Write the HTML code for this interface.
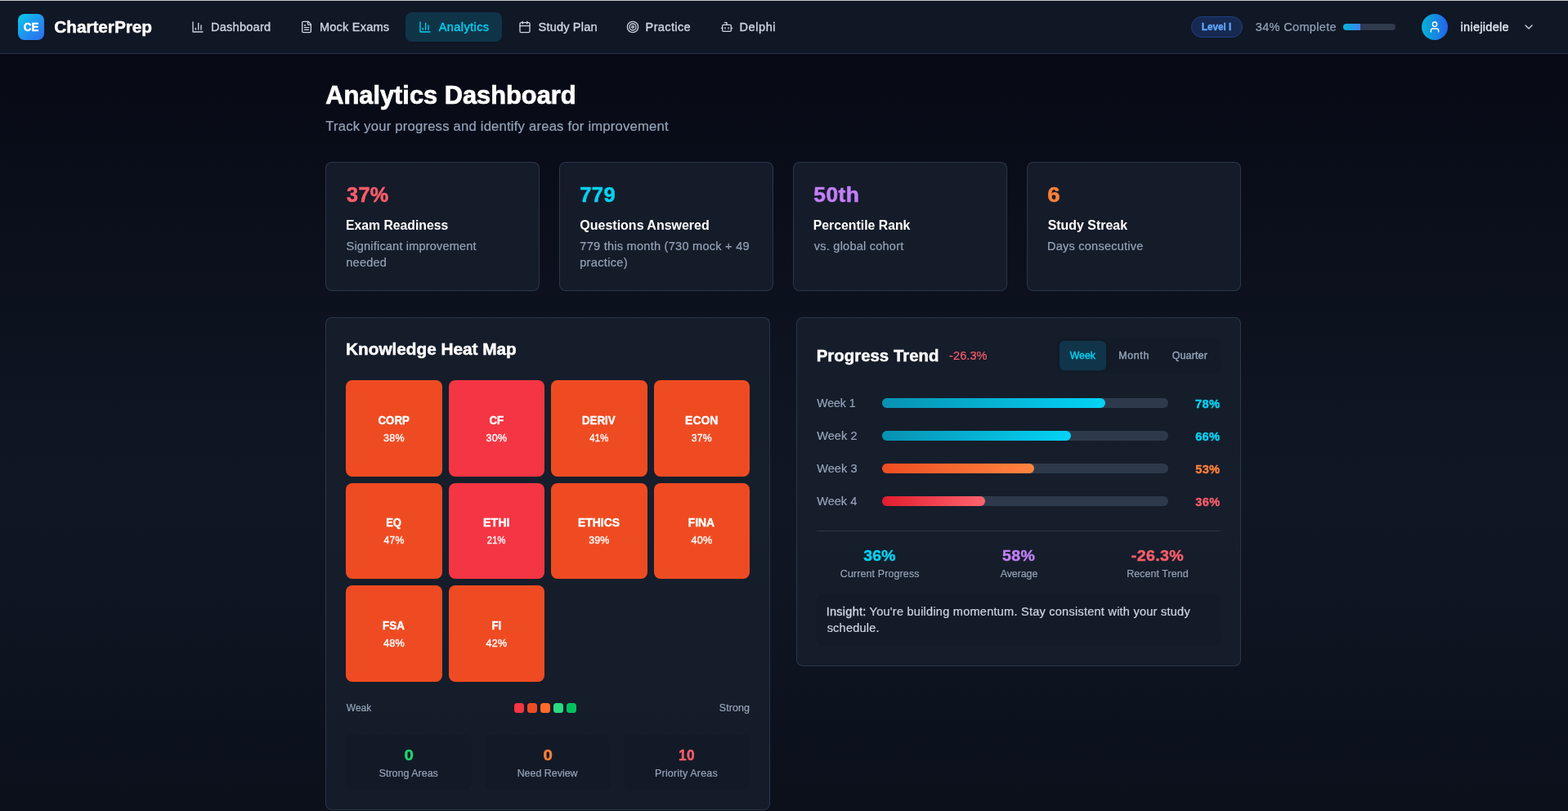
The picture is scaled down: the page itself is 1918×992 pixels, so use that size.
<!DOCTYPE html>
<html lang="en"><head><meta charset="utf-8"><title>CharterPrep – Analytics Dashboard</title>
<style>
*{margin:0;padding:0}
html,body{width:1918px;height:992px;overflow:hidden;background:#0b101b}
body{position:relative;font-family:"Liberation Sans","DejaVu Sans",sans-serif;
  background:linear-gradient(180deg,#060913 0px,#070a15 66px,#101724 600px,#0b101b 992px)}
.b{position:absolute;box-sizing:border-box}
.bar{background:#101725;border-bottom:1px solid #263245}
.topline{background:#c4c6ca}
.logo{border-radius:8px;background:linear-gradient(135deg,#08cbea 0%,#1f96ee 50%,#2f68f0 100%)}
.pill{border-radius:8px;background:#0f3448}
.badge{border-radius:13px;background:#172950;border:1px solid #1f3f85}
.hprog{border-radius:4px;background:#2f3a4d;overflow:hidden}
.hprog div{background:linear-gradient(90deg,#06b6d4,#3b82f6)}
.avatar{border-radius:16px;background:linear-gradient(90deg,#05b3d6 0%,#2563eb 100%)}
.card{background:rgba(24,31,45,0.8);border:1px solid rgba(51,65,85,0.72);border-radius:8px}
.tile{border-radius:8px}
.dot{border-radius:3.5px}
.inner{border-radius:8px;background:rgba(10,15,28,0.13)}
.seg{border-radius:6px;background:#10354a}
.track{border-radius:6px;background:#2e3a4c}
.fill{height:12px;border-radius:6px}
.gc{background:linear-gradient(90deg,#0891b2,#04d3f5)}
.go{background:linear-gradient(90deg,#f04d22,#ff8540)}
.gr{background:linear-gradient(90deg,#e11d2e,#ff6470)}
.rule{background:#2c384b}
.ic{position:absolute;display:block}
.t{position:absolute;display:block;white-space:nowrap;line-height:1;font-weight:400;font-style:normal;text-decoration:none;transform-origin:0 0}
.t b{font-weight:400;-webkit-text-stroke:0.35px currentColor}
</style></head>
<body>
<header>
<div class="b bar" style="left:0px;top:0px;width:1918px;height:66px;"></div>
<div class="b topline" style="left:0px;top:0px;width:1918px;height:1px;"></div>
<div class="b logo" style="left:22px;top:17px;width:32px;height:32px;"></div>
<span class="t" style="left:28.00px;top:26.05px;font-size:14.56px;color:#ffffff;letter-spacing:0.000px;font-weight:700;-webkit-text-stroke:0.40px currentColor;transform:translateX(0.87px) scaleX(0.9228);">CE</span>
<span class="t" style="left:66.28px;top:23.05px;font-size:20.80px;color:#ffffff;letter-spacing:-0.047px;font-weight:700;-webkit-text-stroke:0.46px currentColor;">CharterPrep</span>
<nav>
<div class="b pill" style="left:496px;top:15px;width:118px;height:36px;"></div>
<svg class="ic" style="left:233.5px;top:25px" width="16" height="16" viewBox="0 0 24 24" fill="none" stroke="#cbd5e1" stroke-width="2" stroke-linecap="round" stroke-linejoin="round"><path d="M3 3v18h18"/><path d="M18 17V9"/><path d="M13 17V5"/><path d="M8 17v-3"/></svg>
<svg class="ic" style="left:366.7px;top:25px" width="16" height="16" viewBox="0 0 24 24" fill="none" stroke="#cbd5e1" stroke-width="2" stroke-linecap="round" stroke-linejoin="round"><path d="M15 2H6a2 2 0 0 0-2 2v16a2 2 0 0 0 2 2h12a2 2 0 0 0 2-2V7Z"/><path d="M14 2v4a2 2 0 0 0 2 2h4"/><path d="M10 9H8"/><path d="M16 13H8"/><path d="M16 17H8"/></svg>
<svg class="ic" style="left:512px;top:25px" width="16" height="16" viewBox="0 0 24 24" fill="none" stroke="#05d2f2" stroke-width="2" stroke-linecap="round" stroke-linejoin="round"><path d="M3 3v18h18"/><path d="M18 17V9"/><path d="M13 17V5"/><path d="M8 17v-3"/></svg>
<svg class="ic" style="left:633.6px;top:25px" width="16" height="16" viewBox="0 0 24 24" fill="none" stroke="#cbd5e1" stroke-width="2" stroke-linecap="round" stroke-linejoin="round"><path d="M8 2v4"/><path d="M16 2v4"/><rect width="18" height="18" x="3" y="4" rx="2"/><path d="M3 10h18"/></svg>
<svg class="ic" style="left:765.7px;top:25px" width="16" height="16" viewBox="0 0 24 24" fill="none" stroke="#cbd5e1" stroke-width="2" stroke-linecap="round" stroke-linejoin="round"><circle cx="12" cy="12" r="10"/><circle cx="12" cy="12" r="6"/><circle cx="12" cy="12" r="2"/></svg>
<svg class="ic" style="left:881px;top:25px" width="16" height="16" viewBox="0 0 24 24" fill="none" stroke="#cbd5e1" stroke-width="2" stroke-linecap="round" stroke-linejoin="round"><path d="M12 8V4H8"/><rect width="16" height="12" x="4" y="8" rx="2"/><path d="M2 14h2"/><path d="M20 14h2"/><path d="M15 13v2"/><path d="M9 13v2"/></svg>
<a class="t" style="left:257.93px;top:26.05px;font-size:14.56px;color:#cbd5e1;letter-spacing:0.253px;-webkit-text-stroke:0.35px currentColor;">Dashboard</a>
<a class="t" style="left:390.93px;top:26.05px;font-size:14.56px;color:#cbd5e1;letter-spacing:0.212px;-webkit-text-stroke:0.35px currentColor;">Mock Exams</a>
<a class="t" style="left:536.72px;top:26.05px;font-size:14.56px;color:#05d2f2;letter-spacing:0.396px;-webkit-text-stroke:0.35px currentColor;">Analytics</a>
<a class="t" style="left:658.62px;top:26.05px;font-size:14.56px;color:#cbd5e1;letter-spacing:0.170px;-webkit-text-stroke:0.35px currentColor;">Study Plan</a>
<a class="t" style="left:789.62px;top:26.05px;font-size:14.56px;color:#cbd5e1;letter-spacing:0.351px;-webkit-text-stroke:0.35px currentColor;">Practice</a>
<a class="t" style="left:904.42px;top:26.05px;font-size:14.56px;color:#cbd5e1;letter-spacing:0.582px;-webkit-text-stroke:0.35px currentColor;">Delphi</a>
</nav>
<div class="user">
<div class="b badge" style="left:1457px;top:20px;width:63px;height:26px;"></div>
<div class="b hprog" style="left:1643px;top:29px;width:64px;height:8px"><div style="width:20.8px;height:8px"></div></div>
<div class="b avatar" style="left:1739px;top:17px;width:32px;height:32px;"></div>
<svg class="ic" style="left:1747px;top:25px" width="16" height="16" viewBox="0 0 24 24" fill="none" stroke="#ffffff" stroke-width="2" stroke-linecap="round" stroke-linejoin="round"><path d="M19 21v-2a4 4 0 0 0-4-4H9a4 4 0 0 0-4 4v2"/><circle cx="12" cy="7" r="4"/></svg>
<svg class="ic" style="left:1862px;top:25px" width="16" height="16" viewBox="0 0 24 24" fill="none" stroke="#cbd5e1" stroke-width="2" stroke-linecap="round" stroke-linejoin="round"><path d="m6 9 6 6 6-6"/></svg>
<span class="t" style="left:1469.00px;top:27.05px;font-size:12.48px;color:#5ea4f8;letter-spacing:0.000px;font-weight:700;-webkit-text-stroke:0.40px currentColor;transform:translateX(0.68px) scaleX(0.9448);">Level I</span>
<span class="t" style="left:1535.75px;top:26.05px;font-size:14.56px;color:#94a3b8;letter-spacing:0.318px;-webkit-text-stroke:0.20px currentColor;">34% Complete</span>
<span class="t" style="left:1786.62px;top:26.05px;font-size:14.56px;color:#e2e8f0;letter-spacing:0.276px;-webkit-text-stroke:0.35px currentColor;">iniejidele</span>
</div>
</header>
<main>
<section class="page-title">
<h1 class="t" style="left:398.00px;top:101.05px;font-size:31.20px;color:#ffffff;letter-spacing:0.000px;font-weight:700;-webkit-text-stroke:0.69px currentColor;transform:translateX(0.21px) scaleX(0.9875);">Analytics Dashboard</h1>
<p class="t" style="left:398.35px;top:147.05px;font-size:16.64px;color:#94a3b8;letter-spacing:0.217px;-webkit-text-stroke:0.20px currentColor;">Track your progress and identify areas for improvement</p>
</section>
<section class="stats">
<div class="b card" style="left:398px;top:198px;width:262px;height:158px;"></div>
<div class="b card" style="left:684px;top:198px;width:262px;height:158px;"></div>
<div class="b card" style="left:970px;top:198px;width:262px;height:158px;"></div>
<div class="b card" style="left:1256px;top:198px;width:262px;height:158px;"></div>
<p class="t" style="left:424.03px;top:226.05px;font-size:25.20px;color:#f95d6a;letter-spacing:0.400px;font-weight:700;-webkit-text-stroke:0.55px currentColor;">37%</p>
<h3 class="t" style="left:423.00px;top:268.05px;font-size:16.64px;color:#ffffff;letter-spacing:0.000px;font-weight:700;transform:translateX(0.01px) scaleX(0.9471);">Exam Readiness</h3>
<p class="t" style="left:423.55px;top:294.05px;font-size:14.56px;color:#94a3b8;letter-spacing:0.176px;-webkit-text-stroke:0.20px currentColor;">Significant improvement</p>
<p class="t" style="left:423.25px;top:314.05px;font-size:14.56px;color:#94a3b8;letter-spacing:0.223px;-webkit-text-stroke:0.20px currentColor;">needed</p>
<p class="t" style="left:709.00px;top:226.05px;font-size:25.20px;color:#05d2f2;letter-spacing:0.400px;font-weight:700;-webkit-text-stroke:0.55px currentColor;transform:translateX(0.21px) scaleX(1.0149);">779</p>
<h3 class="t" style="left:709.00px;top:268.05px;font-size:16.64px;color:#ffffff;letter-spacing:0.000px;font-weight:700;transform:translateX(0.37px) scaleX(0.9613);">Questions Answered</h3>
<p class="t" style="left:709.35px;top:294.05px;font-size:14.56px;color:#94a3b8;letter-spacing:0.253px;-webkit-text-stroke:0.20px currentColor;">779 this month (730 mock + 49</p>
<p class="t" style="left:709.15px;top:314.05px;font-size:14.56px;color:#94a3b8;letter-spacing:0.340px;-webkit-text-stroke:0.20px currentColor;">practice)</p>
<p class="t" style="left:995.00px;top:226.05px;font-size:25.20px;color:#c17ff7;letter-spacing:0.400px;font-weight:700;-webkit-text-stroke:0.55px currentColor;transform:translateX(0.30px) scaleX(1.0473);">50th</p>
<h3 class="t" style="left:994.00px;top:268.05px;font-size:16.64px;color:#ffffff;letter-spacing:0.000px;font-weight:700;transform:translateX(0.70px) scaleX(0.9516);">Percentile Rank</h3>
<p class="t" style="left:995.85px;top:294.05px;font-size:14.56px;color:#94a3b8;letter-spacing:0.220px;-webkit-text-stroke:0.20px currentColor;">vs. global cohort</p>
<p class="t" style="left:1281.00px;top:226.05px;font-size:25.20px;color:#fd8139;letter-spacing:0.000px;font-weight:700;-webkit-text-stroke:0.55px currentColor;transform:translateX(0.36px) scaleX(1.0973);">6</p>
<h3 class="t" style="left:1281.00px;top:268.05px;font-size:16.64px;color:#ffffff;letter-spacing:0.000px;font-weight:700;transform:translateX(0.67px) scaleX(0.9579);">Study Streak</h3>
<p class="t" style="left:1281.05px;top:294.05px;font-size:14.56px;color:#94a3b8;letter-spacing:0.213px;-webkit-text-stroke:0.20px currentColor;">Days consecutive</p>
</section>
<section class="heatmap">
<div class="b card" style="left:398px;top:388px;width:544px;height:602.5px;"></div>
<div class="b tile" style="left:423px;top:465px;width:117.5px;height:117.5px;background:#ef4b22"></div>
<div class="b tile" style="left:548.5px;top:465px;width:117.5px;height:117.5px;background:#f43543"></div>
<div class="b tile" style="left:674px;top:465px;width:117.5px;height:117.5px;background:#ef4b22"></div>
<div class="b tile" style="left:799.5px;top:465px;width:117.5px;height:117.5px;background:#ef4b22"></div>
<div class="b tile" style="left:423px;top:590.5px;width:117.5px;height:117.5px;background:#ef4b22"></div>
<div class="b tile" style="left:548.5px;top:590.5px;width:117.5px;height:117.5px;background:#f43543"></div>
<div class="b tile" style="left:674px;top:590.5px;width:117.5px;height:117.5px;background:#ef4b22"></div>
<div class="b tile" style="left:799.5px;top:590.5px;width:117.5px;height:117.5px;background:#ef4b22"></div>
<div class="b tile" style="left:423px;top:716px;width:117.5px;height:117.5px;background:#ef4b22"></div>
<div class="b tile" style="left:548.5px;top:716px;width:117.5px;height:117.5px;background:#ef4b22"></div>
<div class="b dot" style="left:629px;top:860px;width:12px;height:12px;background:#f43545"></div>
<div class="b dot" style="left:645px;top:860px;width:12px;height:12px;background:#ef4c23"></div>
<div class="b dot" style="left:661px;top:860px;width:12px;height:12px;background:#ff6b2b"></div>
<div class="b dot" style="left:677px;top:860px;width:12px;height:12px;background:#2bdb7f"></div>
<div class="b dot" style="left:693px;top:860px;width:12px;height:12px;background:#02c05e"></div>
<div class="b inner" style="left:423px;top:897.5px;width:154px;height:68px;"></div>
<div class="b inner" style="left:593px;top:897.5px;width:154px;height:68px;"></div>
<div class="b inner" style="left:763px;top:897.5px;width:154px;height:68px;"></div>
<h2 class="t" style="left:423.08px;top:417.05px;font-size:20.80px;color:#ffffff;letter-spacing:-0.031px;font-weight:700;-webkit-text-stroke:0.46px currentColor;">Knowledge Heat Map</h2>
<span class="t" style="left:462.00px;top:507.05px;font-size:14.56px;color:#ffffff;letter-spacing:0.000px;font-weight:700;-webkit-text-stroke:0.40px currentColor;transform:translateX(0.53px) scaleX(0.9121);">CORP</span>
<span class="t" style="left:469.00px;top:530.05px;font-size:12.60px;color:rgba(255,255,255,0.92);letter-spacing:0.250px;-webkit-text-stroke:0.42px currentColor;transform:translateX(0.01px) scaleX(0.9907);">38%</span>
<span class="t" style="left:598.00px;top:507.05px;font-size:14.56px;color:#ffffff;letter-spacing:0.000px;font-weight:700;-webkit-text-stroke:0.40px currentColor;transform:translateX(0.38px) scaleX(0.9142);">CF</span>
<span class="t" style="left:594.41px;top:530.05px;font-size:12.60px;color:rgba(255,255,255,0.92);letter-spacing:0.250px;-webkit-text-stroke:0.42px currentColor;">30%</span>
<span class="t" style="left:711.00px;top:507.05px;font-size:14.56px;color:#ffffff;letter-spacing:0.000px;font-weight:700;-webkit-text-stroke:0.40px currentColor;transform:translateX(0.96px) scaleX(0.9162);">DERIV</span>
<span class="t" style="left:721.00px;top:530.05px;font-size:12.60px;color:rgba(255,255,255,0.92);letter-spacing:0.250px;-webkit-text-stroke:0.42px currentColor;transform:translateX(0.36px) scaleX(0.8929);">41%</span>
<span class="t" style="left:838.00px;top:507.05px;font-size:14.56px;color:#ffffff;letter-spacing:0.000px;font-weight:700;-webkit-text-stroke:0.40px currentColor;transform:translateX(0.08px) scaleX(0.9594);">ECON</span>
<span class="t" style="left:845.00px;top:530.05px;font-size:12.60px;color:rgba(255,255,255,0.92);letter-spacing:0.250px;-webkit-text-stroke:0.42px currentColor;transform:translateX(0.82px) scaleX(0.9670);">37%</span>
<span class="t" style="left:472.00px;top:632.05px;font-size:14.56px;color:#ffffff;letter-spacing:0.000px;font-weight:700;-webkit-text-stroke:0.40px currentColor;transform:translateX(0.17px) scaleX(0.8945);">EQ</span>
<span class="t" style="left:469.00px;top:655.05px;font-size:12.60px;color:rgba(255,255,255,0.92);letter-spacing:0.250px;-webkit-text-stroke:0.42px currentColor;transform:translateX(0.41px) scaleX(0.9673);">47%</span>
<span class="t" style="left:591.00px;top:632.05px;font-size:14.56px;color:#ffffff;letter-spacing:0.000px;font-weight:700;-webkit-text-stroke:0.40px currentColor;transform:translateX(0.07px) scaleX(0.9773);">ETHI</span>
<span class="t" style="left:595.00px;top:655.05px;font-size:12.60px;color:rgba(255,255,255,0.92);letter-spacing:0.250px;-webkit-text-stroke:0.42px currentColor;transform:translateX(0.86px) scaleX(0.8793);">21%</span>
<span class="t" style="left:707.00px;top:632.05px;font-size:14.56px;color:#ffffff;letter-spacing:0.000px;font-weight:700;-webkit-text-stroke:0.40px currentColor;transform:translateX(0.08px) scaleX(0.9546);">ETHICS</span>
<span class="t" style="left:720.00px;top:655.05px;font-size:12.60px;color:rgba(255,255,255,0.92);letter-spacing:0.250px;-webkit-text-stroke:0.42px currentColor;transform:translateX(0.16px) scaleX(0.9789);">39%</span>
<span class="t" style="left:841.00px;top:632.05px;font-size:14.56px;color:#ffffff;letter-spacing:0.000px;font-weight:700;-webkit-text-stroke:0.40px currentColor;transform:translateX(0.78px) scaleX(0.9532);">FINA</span>
<span class="t" style="left:845.51px;top:655.05px;font-size:12.60px;color:rgba(255,255,255,0.92);letter-spacing:0.250px;-webkit-text-stroke:0.42px currentColor;">40%</span>
<span class="t" style="left:468.00px;top:758.05px;font-size:14.56px;color:#ffffff;letter-spacing:0.000px;font-weight:700;-webkit-text-stroke:0.40px currentColor;transform:translateX(0.11px) scaleX(0.9186);">FSA</span>
<span class="t" style="left:468.00px;top:781.05px;font-size:12.60px;color:rgba(255,255,255,0.92);letter-spacing:0.250px;-webkit-text-stroke:0.42px currentColor;transform:translateX(0.91px) scaleX(1.0065);">48%</span>
<span class="t" style="left:601.00px;top:758.05px;font-size:14.56px;color:#ffffff;letter-spacing:0.000px;font-weight:700;-webkit-text-stroke:0.40px currentColor;transform:translateX(0.42px) scaleX(0.9049);">FI</span>
<span class="t" style="left:594.00px;top:781.05px;font-size:12.60px;color:rgba(255,255,255,0.92);letter-spacing:0.250px;-webkit-text-stroke:0.42px currentColor;transform:translateX(0.56px) scaleX(0.9947);">42%</span>
<span class="t" style="left:423.00px;top:860.05px;font-size:12.48px;color:#94a3b8;letter-spacing:0.000px;-webkit-text-stroke:0.20px currentColor;transform:translateX(0.85px) scaleX(0.9613);">Weak</span>
<span class="t" style="left:879.75px;top:860.05px;font-size:12.48px;color:#94a3b8;letter-spacing:0.114px;-webkit-text-stroke:0.20px currentColor;">Strong</span>
<span class="t" style="left:494.00px;top:915.05px;font-size:18.90px;color:#22d46e;letter-spacing:0.000px;font-weight:700;-webkit-text-stroke:0.42px currentColor;transform:translateX(0.52px) scaleX(1.0819);">0</span>
<span class="t" style="left:463.65px;top:940.05px;font-size:12.48px;color:#94a3b8;letter-spacing:0.009px;-webkit-text-stroke:0.20px currentColor;">Strong Areas</span>
<span class="t" style="left:664.00px;top:915.05px;font-size:18.90px;color:#fd8139;letter-spacing:0.000px;font-weight:700;-webkit-text-stroke:0.42px currentColor;transform:translateX(0.52px) scaleX(1.0819);">0</span>
<span class="t" style="left:632.65px;top:940.05px;font-size:12.48px;color:#94a3b8;letter-spacing:-0.021px;-webkit-text-stroke:0.20px currentColor;">Need Review</span>
<span class="t" style="left:830.00px;top:915.05px;font-size:18.90px;color:#f95d6a;letter-spacing:0.300px;font-weight:700;-webkit-text-stroke:0.42px currentColor;transform:translateX(0.03px) scaleX(0.9182);">10</span>
<span class="t" style="left:801.05px;top:940.05px;font-size:12.48px;color:#94a3b8;letter-spacing:0.188px;-webkit-text-stroke:0.20px currentColor;">Priority Areas</span>
</section>
<section class="progress">
<div class="b card" style="left:974px;top:388px;width:544px;height:427px;"></div>
<div class="b inner" style="left:1293px;top:413px;width:200px;height:44px;"></div>
<div class="b seg" style="left:1296px;top:417px;width:57px;height:36px;"></div>
<div class="b track" style="left:1079px;top:487px;width:350px;height:12px"><div class="fill gc" style="width:78%"></div></div>
<div class="b track" style="left:1079px;top:527px;width:350px;height:12px"><div class="fill gc" style="width:66%"></div></div>
<div class="b track" style="left:1079px;top:567px;width:350px;height:12px"><div class="fill go" style="width:53%"></div></div>
<div class="b track" style="left:1079px;top:607px;width:350px;height:12px"><div class="fill gr" style="width:36%"></div></div>
<div class="b rule" style="left:999px;top:649px;width:494px;height:1px;"></div>
<div class="b inner" style="left:999px;top:726px;width:494px;height:64px;"></div>
<h2 class="t" style="left:998.00px;top:425.05px;font-size:20.80px;color:#ffffff;letter-spacing:0.000px;font-weight:700;-webkit-text-stroke:0.46px currentColor;transform:translateX(0.70px) scaleX(0.9818);">Progress Trend</h2>
<span class="t" style="left:1161.05px;top:428.05px;font-size:14.56px;color:#f95d6a;letter-spacing:0.083px;-webkit-text-stroke:0.20px currentColor;">-26.3%</span>
<span class="t" style="left:1308.00px;top:429.05px;font-size:12.48px;color:#05d2f2;letter-spacing:0.000px;-webkit-text-stroke:0.40px currentColor;transform:translateX(0.75px) scaleX(0.9834);">Week</span>
<span class="t" style="left:1368.15px;top:429.05px;font-size:12.48px;color:#94a3b8;letter-spacing:0.639px;-webkit-text-stroke:0.40px currentColor;">Month</span>
<span class="t" style="left:1433.65px;top:429.05px;font-size:12.48px;color:#94a3b8;letter-spacing:0.158px;-webkit-text-stroke:0.40px currentColor;">Quarter</span>
<span class="t" style="left:999.00px;top:486.05px;font-size:14.56px;color:#94a3b8;letter-spacing:0.000px;-webkit-text-stroke:0.20px currentColor;transform:translateX(0.15px) scaleX(0.9671);">Week 1</span>
<span class="t" style="left:1462.05px;top:487.05px;font-size:14.70px;color:#05d2f2;letter-spacing:0.300px;font-weight:700;-webkit-text-stroke:0.40px currentColor;">78%</span>
<span class="t" style="left:999.15px;top:526.05px;font-size:14.56px;color:#94a3b8;letter-spacing:0.080px;-webkit-text-stroke:0.20px currentColor;">Week 2</span>
<span class="t" style="left:1462.15px;top:527.05px;font-size:14.70px;color:#05d2f2;letter-spacing:0.300px;font-weight:700;-webkit-text-stroke:0.40px currentColor;">66%</span>
<span class="t" style="left:999.15px;top:566.05px;font-size:14.56px;color:#94a3b8;letter-spacing:0.060px;-webkit-text-stroke:0.20px currentColor;">Week 3</span>
<span class="t" style="left:1462.00px;top:567.05px;font-size:14.70px;color:#fd8139;letter-spacing:0.300px;font-weight:700;-webkit-text-stroke:0.40px currentColor;transform:translateX(0.25px) scaleX(0.9949);">53%</span>
<span class="t" style="left:999.15px;top:606.05px;font-size:14.56px;color:#94a3b8;letter-spacing:0.020px;-webkit-text-stroke:0.20px currentColor;">Week 4</span>
<span class="t" style="left:1462.00px;top:607.05px;font-size:14.70px;color:#f95d6a;letter-spacing:0.300px;font-weight:700;-webkit-text-stroke:0.40px currentColor;transform:translateX(0.35px) scaleX(0.9916);">36%</span>
<span class="t" style="left:1056.00px;top:671.05px;font-size:18.90px;color:#05d2f2;letter-spacing:0.300px;font-weight:700;-webkit-text-stroke:0.42px currentColor;transform:translateX(0.16px) scaleX(1.0252);">36%</span>
<span class="t" style="left:1027.75px;top:696.05px;font-size:12.48px;color:#94a3b8;letter-spacing:0.121px;-webkit-text-stroke:0.20px currentColor;">Current Progress</span>
<span class="t" style="left:1226.00px;top:671.05px;font-size:18.90px;color:#c17ff7;letter-spacing:0.300px;font-weight:700;-webkit-text-stroke:0.42px currentColor;transform:translateX(0.05px) scaleX(1.0331);">58%</span>
<span class="t" style="left:1223.75px;top:696.05px;font-size:12.48px;color:#94a3b8;letter-spacing:-0.103px;-webkit-text-stroke:0.20px currentColor;">Average</span>
<span class="t" style="left:1383.00px;top:671.05px;font-size:18.90px;color:#f95d6a;letter-spacing:0.300px;font-weight:700;-webkit-text-stroke:0.42px currentColor;transform:translateX(0.84px) scaleX(1.0412);">-26.3%</span>
<span class="t" style="left:1378.15px;top:696.05px;font-size:12.48px;color:#94a3b8;letter-spacing:0.054px;-webkit-text-stroke:0.20px currentColor;">Recent Trend</span>
<p class="t" style="left:1010.75px;top:741.05px;font-size:14.56px;color:#cbd5e1;letter-spacing:0.234px;-webkit-text-stroke:0.20px currentColor;"><b>Insight:</b> You're building momentum. Stay consistent with your study</p>
<p class="t" style="left:1011.65px;top:761.05px;font-size:14.56px;color:#cbd5e1;letter-spacing:0.202px;-webkit-text-stroke:0.20px currentColor;">schedule.</p>
</section>
</main>
</body></html>
